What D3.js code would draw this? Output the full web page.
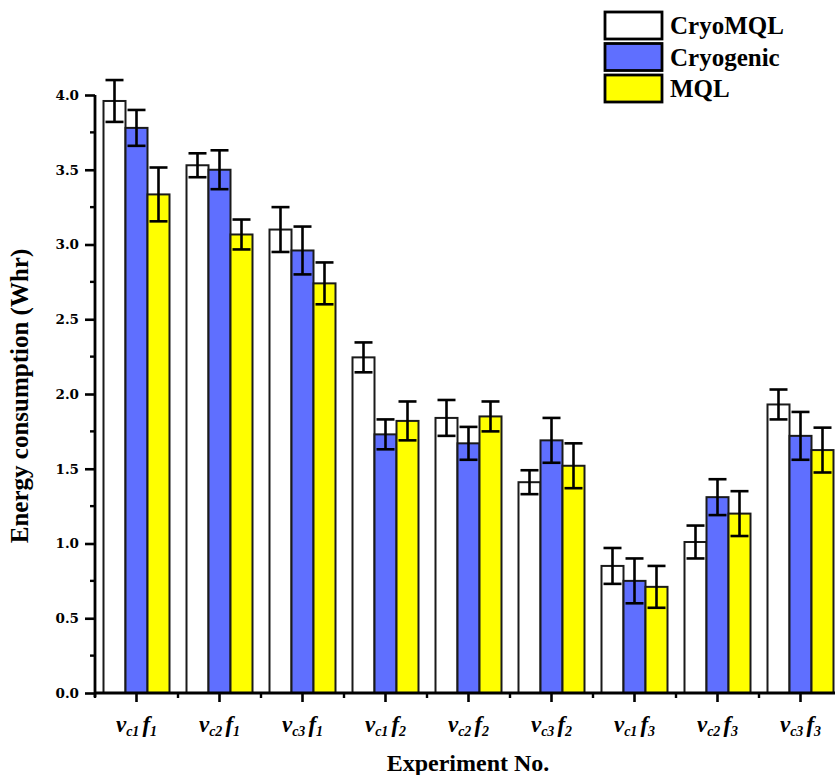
<!DOCTYPE html>
<html>
<head>
<meta charset="utf-8">
<script src="https://cdn.jsdelivr.net/npm/d3@7"></script>
<style>
  html, body { margin: 0; padding: 0; background: #fff; }
  svg { display: block; }
</style>
</head>
<body>
<svg id="chart" width="835" height="775"></svg>
<script>
// ---- data ----
const categories = ["vc1f1","vc2f1","vc3f1","vc1f2","vc2f2","vc3f2","vc1f3","vc2f3","vc3f3"];
const tickSubV = ["c1","c2","c3","c1","c2","c3","c1","c2","c3"];
const tickSubF = ["1","1","1","2","2","2","3","3","3"];
const seriesNames = ["CryoMQL","Cryogenic","MQL"];
const cryoMQL    = [3.96, 3.53, 3.10, 2.245, 1.84, 1.41, 0.85, 1.01, 1.93];
const cryoMQLErr = [0.14, 0.08, 0.15, 0.10, 0.12, 0.08, 0.12, 0.11, 0.10];
const cryogenic    = [3.78, 3.50, 2.96, 1.73, 1.67, 1.69, 0.75, 1.31, 1.72];
const cryogenicErr = [0.12, 0.13, 0.16, 0.10, 0.11, 0.15, 0.15, 0.12, 0.16];
const mql    = [3.335, 3.067, 2.74, 1.82, 1.85, 1.52, 0.71, 1.20, 1.625];
const mqlErr = [0.18, 0.10, 0.14, 0.13, 0.10, 0.15, 0.14, 0.15, 0.15];
const yTicks = [0, 0.5, 1.0, 1.5, 2.0, 2.5, 3.0, 3.5, 4.0];
const yMinorTicks = [0.25, 0.75, 1.25, 1.75, 2.25, 2.75, 3.25, 3.75];
const colors = ["#ffffff", "#5f6fff", "#ffff00"];

const values = [cryoMQL, cryogenic, mql];
const errors = [cryoMQLErr, cryogenicErr, mqlErr];

(function draw() {
  const svg = d3.select("#chart");
  const mLeft = 95, mBottom = 693, mTop = 95;
  const band = 83;

  const x = d3.scaleBand().domain(categories).range([mLeft, mLeft + band * categories.length]).paddingInner(0).paddingOuter(0);
  const xSub = d3.scaleBand().domain(seriesNames).range([8.5, 74.5]);
  const y = d3.scaleLinear().domain([0, 4]).range([mBottom, mTop]);

  // bars
  seriesNames.forEach((s, si) => {
    const g = svg.append("g");
    categories.forEach((c, ci) => {
      const v = values[si][ci];
      g.append("rect")
        .attr("x", x(c) + xSub(s))
        .attr("y", y(v))
        .attr("width", xSub.bandwidth())
        .attr("height", y(0) - y(v))
        .attr("fill", colors[si])
        .attr("stroke", "#1a1a1a")
        .attr("stroke-width", 2);
    });
  });

  // error bars
  seriesNames.forEach((s, si) => {
    categories.forEach((c, ci) => {
      const v = values[si][ci], e = errors[si][ci];
      const cx = x(c) + xSub(s) + xSub.bandwidth() / 2;
      const g = svg.append("g").attr("stroke", "#000").attr("stroke-width", 2.6);
      g.append("line").attr("x1", cx).attr("x2", cx).attr("y1", y(v + e)).attr("y2", y(v - e));
      g.append("line").attr("x1", cx - 9).attr("x2", cx + 9).attr("y1", y(v + e)).attr("y2", y(v + e));
      g.append("line").attr("x1", cx - 9).attr("x2", cx + 9).attr("y1", y(v - e)).attr("y2", y(v - e));
    });
  });

  // y axis
  const yAxis = svg.append("g").attr("transform", `translate(${mLeft},0)`)
    .call(d3.axisLeft(y).tickValues(yTicks).tickFormat(d3.format(".1f")).tickSize(10).tickPadding(6));
  yAxis.select(".domain").attr("stroke-width", 2.8).attr("d", `M0,${y(4)}V${mBottom + 4}`);
  yAxis.selectAll(".tick line").attr("stroke-width", 2.6);
  yAxis.selectAll(".tick text")
    .attr("font-family", "'DejaVu Serif', serif")
    .attr("font-weight", "bold")
    .attr("font-size", 13.5)
    .attr("fill", "#000");
  svg.append("g").selectAll("line").data(yMinorTicks).join("line")
    .attr("x1", mLeft - 5).attr("x2", mLeft)
    .attr("y1", d => y(d)).attr("y2", d => y(d))
    .attr("stroke", "#000").attr("stroke-width", 2.4);

  // x axis
  const xAxis = svg.append("g").attr("transform", `translate(0,${mBottom})`)
    .call(d3.axisBottom(x).tickSize(9).tickFormat(""));
  xAxis.select(".domain").attr("stroke-width", 2.8).attr("d", `M${mLeft},0H835`);
  xAxis.selectAll(".tick line").attr("stroke-width", 2.6);
  svg.append("g").selectAll("line").data(categories).join("line")
    .attr("x1", d => x(d)).attr("x2", d => x(d))
    .attr("y1", mBottom).attr("y2", mBottom + 5)
    .attr("stroke", "#000").attr("stroke-width", 2.4);

  // x tick labels with subscripts
  const labelG = svg.append("g")
    .attr("font-family", "'Liberation Serif', 'Times New Roman', serif")
    .attr("font-weight", "bold").attr("font-style", "italic").attr("fill", "#000");
  categories.forEach((c, i) => {
    const t = labelG.append("text")
      .attr("x", x(c) + x.bandwidth() / 2)
      .attr("y", 732)
      .attr("text-anchor", "middle");
    t.append("tspan").attr("font-size", 23).text("v");
    t.append("tspan").attr("font-size", 14).attr("dy", 4).text(tickSubV[i]);
    t.append("tspan").attr("font-size", 23).attr("dy", -4).attr("dx", 3).text("f");
    t.append("tspan").attr("font-size", 14).attr("dy", 4).text(tickSubF[i]);
  });

  // axis titles
  svg.append("text")
    .attr("x", 468).attr("y", 771)
    .attr("text-anchor", "middle")
    .attr("font-family", "'Liberation Serif', 'Times New Roman', serif")
    .attr("font-weight", "bold").attr("font-size", 24)
    .text("Experiment No.");
  svg.append("text")
    .attr("transform", "translate(28,396) rotate(-90)")
    .attr("text-anchor", "middle")
    .attr("font-family", "'Liberation Serif', 'Times New Roman', serif")
    .attr("font-weight", "bold").attr("font-size", 25)
    .text("Energy consumption (Whr)");

  // legend
  const leg = svg.append("g");
  seriesNames.forEach((s, i) => {
    const yy = 12 + i * 31.5;
    leg.append("rect").attr("x", 605).attr("y", yy).attr("width", 57).attr("height", 27)
      .attr("fill", colors[i]).attr("stroke", "#000").attr("stroke-width", 2.8);
    leg.append("text").attr("x", 670).attr("y", yy + 22)
      .attr("font-family", "'Liberation Serif', 'Times New Roman', serif")
      .attr("font-weight", "bold").attr("font-size", 25)
      .text(s);
  });
})();
</script>
</body>
</html>
